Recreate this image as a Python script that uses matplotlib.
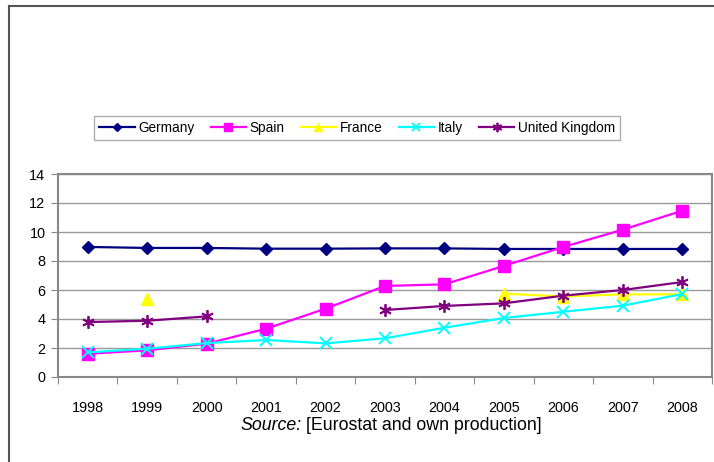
import numpy as np
import matplotlib.pyplot as plt
from matplotlib.lines import Line2D

plt.rcParams['font.family'] = ['Liberation Sans', 'DejaVu Sans']

years = ['1998', '1999', '2000', '2001', '2002', '2003', '2004', '2005', '2006', '2007', '2008']
nan = np.nan
germany = [8.97, 8.9, 8.9, 8.85, 8.85, 8.87, 8.87, 8.83, 8.83, 8.83, 8.83]
spain = [1.6, 1.84, 2.3, 3.33, 4.71, 6.28, 6.39, 7.66, 8.97, 10.16, 11.47]
france = [nan, 5.36, nan, nan, nan, nan, nan, 5.75, 5.55, 5.7, 5.7]
italy = [1.7, 1.95, 2.34, 2.55, 2.32, 2.67, 3.4, 4.07, 4.5, 4.92, 5.72]
uk = [3.79, 3.88, 4.18, nan, nan, 4.62, 4.9, 5.08, 5.61, 6.0, 6.55]

fig = plt.figure(figsize=(7.14, 4.62), dpi=100)
ax = fig.add_axes([58/714, 1 - 377/462, 654/714, 203/462])

x = np.arange(len(years))
ax.plot(x, germany, color='#000080', marker='D', markersize=6, lw=1.6, label='Germany')
ax.plot(x, spain, color='#FF00FF', marker='s', markersize=8.5, lw=1.6, label='Spain')
ax.plot(x, france, color='#FFFF00', marker='^', markersize=8, lw=1.6, label='France')
ax.plot(x, italy, color='#00FFFF', marker='x', markersize=8, mew=1.4, lw=1.6, label='Italy')
ax.plot(x, uk, color='#800080', marker=(6, 2, 0), markersize=9, mew=1.3, lw=1.6, label='United Kingdom')

ax.set_xlim(-0.5, 10.5)
ax.set_ylim(0, 14)
ax.set_yticks(range(0, 15, 2))
ax.yaxis.grid(True, color='#999999', lw=1)
ax.set_axisbelow(True)

# year labels sit in the middle of each category, tick marks on the boundaries
ax.set_xticks(np.arange(-0.5, 11, 1))
ax.set_xticklabels([])
ax.set_xticks(x, minor=True)
ax.set_xticklabels(years, minor=True, fontsize=10.4)
ax.tick_params(axis='x', which='major', length=5, color='#888888', direction='out')
ax.tick_params(axis='x', which='minor', length=0, pad=17)
ax.tick_params(axis='y', length=5, color='#888888', labelsize=10.4, pad=4)

for s in ax.spines.values():
    s.set_color('#888888')
    s.set_linewidth(1.5)

# source line: italic "Source:" followed by upright text, centred under the plot
ypos = 1 - 425/462
t1 = fig.text(0, ypos, 'Source:', fontsize=12.8, style='italic', ha='left', va='center')
t2 = fig.text(0, ypos, '[Eurostat and own production]', fontsize=12.8, ha='left', va='center')
fig.canvas.draw()
r = fig.canvas.get_renderer()
w1 = t1.get_window_extent(r).width
w2 = t2.get_window_extent(r).width
gap = 4
x0 = 391 - (w1 + gap + w2) / 2
t1.set_x(x0 / 714)
t2.set_x((x0 + w1 + gap) / 714)

leg = fig.legend(loc='center', bbox_to_anchor=(357/714, 1 - 128/462), ncol=5, fontsize=9.8,
                 frameon=True, fancybox=False, edgecolor='#999999', handlelength=2.6,
                 columnspacing=1.2, handletextpad=0.25, borderpad=0.35, markerscale=0.75)
leg.get_frame().set_linewidth(1.0)

# outer frame along the top and left edges
fig.add_artist(Line2D([9/714, 713/714], [1 - 6/462, 1 - 6/462], color='#555555', lw=1.5))
fig.add_artist(Line2D([9/714, 9/714], [0, 1 - 6/462], color='#555555', lw=1.5))

fig.savefig('out.png', dpi=100)
